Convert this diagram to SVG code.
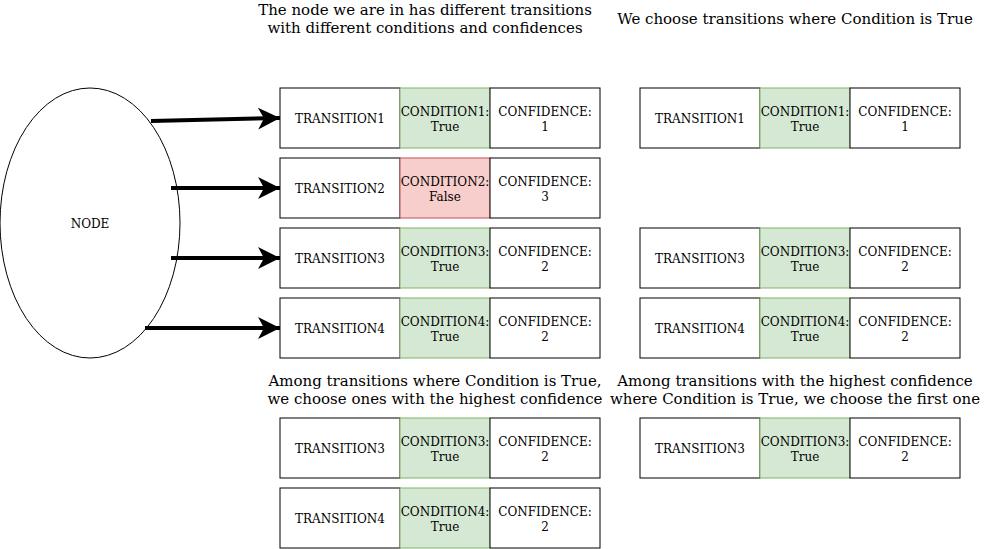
<svg xmlns="http://www.w3.org/2000/svg" width="991" height="549" viewBox="0 0 991 549">
<style>
text{font-family:"DejaVu Serif","Liberation Serif",serif;fill:#000;text-anchor:middle}
.s{font-size:12px}
.t{font-size:15px}
.w{fill:#fff;stroke:#000;stroke-width:1}
.g{fill:#d5e8d4;stroke:#82b366;stroke-width:1}
.r{fill:#f8cecc;stroke:#b85450;stroke-width:1}
.e{stroke:#000;stroke-width:4;fill:none}
</style>
<defs>
<marker id="ah" markerUnits="userSpaceOnUse" markerWidth="24" markerHeight="24" refX="22" refY="11" orient="auto">
<path d="M0,0 L22,11 L0,22 L6,11 Z" fill="#000"/>
</marker>
</defs>
<rect width="991" height="549" fill="#fff"/>
<g id="titles">
<text class="t" x="425" y="15">The node we are in has different transitions</text>
<text class="t" x="425" y="33">with different conditions and confidences</text>
<text class="t" x="795" y="24">We choose transitions where Condition is True</text>
<text class="t" x="435" y="386">Among transitions where Condition is True,</text>
<text class="t" x="435" y="404">we choose ones with the highest confidence</text>
<text class="t" x="795" y="386">Among transitions with the highest confidence</text>
<text class="t" x="795" y="404">where Condition is True, we choose the first one</text>
</g>
<g id="node">
<ellipse cx="90" cy="223" rx="90" ry="135" fill="#fff" stroke="#000"/>
<text class="s" x="90" y="228">NODE</text>
</g>
<g id="connectors">
<path class="e" d="M151,121 L280,118" marker-end="url(#ah)"/>
<path class="e" d="M171,188 L280,188" marker-end="url(#ah)"/>
<path class="e" d="M171,258 L280,258" marker-end="url(#ah)"/>
<path class="e" d="M145,328 L280,328" marker-end="url(#ah)"/>
</g>
<g id="l1">
<rect class="w" x="280" y="88" width="120" height="60"/><text class="s" x="340" y="123">TRANSITION1</text>
<rect class="g" x="400" y="88" width="90" height="60"/><text class="s" x="445" y="116">CONDITION1:</text><text class="s" x="445" y="131">True</text>
<rect class="w" x="490" y="88" width="110" height="60"/><text class="s" x="545" y="116">CONFIDENCE:</text><text class="s" x="545" y="131">1</text>
</g>
<g id="l2">
<rect class="w" x="280" y="158" width="120" height="60"/><text class="s" x="340" y="193">TRANSITION2</text>
<rect class="r" x="400" y="158" width="90" height="60"/><text class="s" x="445" y="186">CONDITION2:</text><text class="s" x="445" y="201">False</text>
<rect class="w" x="490" y="158" width="110" height="60"/><text class="s" x="545" y="186">CONFIDENCE:</text><text class="s" x="545" y="201">3</text>
</g>
<g id="l3">
<rect class="w" x="280" y="228" width="120" height="60"/><text class="s" x="340" y="263">TRANSITION3</text>
<rect class="g" x="400" y="228" width="90" height="60"/><text class="s" x="445" y="256">CONDITION3:</text><text class="s" x="445" y="271">True</text>
<rect class="w" x="490" y="228" width="110" height="60"/><text class="s" x="545" y="256">CONFIDENCE:</text><text class="s" x="545" y="271">2</text>
</g>
<g id="l4">
<rect class="w" x="280" y="298" width="120" height="60"/><text class="s" x="340" y="333">TRANSITION4</text>
<rect class="g" x="400" y="298" width="90" height="60"/><text class="s" x="445" y="326">CONDITION4:</text><text class="s" x="445" y="341">True</text>
<rect class="w" x="490" y="298" width="110" height="60"/><text class="s" x="545" y="326">CONFIDENCE:</text><text class="s" x="545" y="341">2</text>
</g>
<g id="r1">
<rect class="w" x="640" y="88" width="120" height="60"/><text class="s" x="700" y="123">TRANSITION1</text>
<rect class="g" x="760" y="88" width="90" height="60"/><text class="s" x="805" y="116">CONDITION1:</text><text class="s" x="805" y="131">True</text>
<rect class="w" x="850" y="88" width="110" height="60"/><text class="s" x="905" y="116">CONFIDENCE:</text><text class="s" x="905" y="131">1</text>
</g>
<g id="r3">
<rect class="w" x="640" y="228" width="120" height="60"/><text class="s" x="700" y="263">TRANSITION3</text>
<rect class="g" x="760" y="228" width="90" height="60"/><text class="s" x="805" y="256">CONDITION3:</text><text class="s" x="805" y="271">True</text>
<rect class="w" x="850" y="228" width="110" height="60"/><text class="s" x="905" y="256">CONFIDENCE:</text><text class="s" x="905" y="271">2</text>
</g>
<g id="r4">
<rect class="w" x="640" y="298" width="120" height="60"/><text class="s" x="700" y="333">TRANSITION4</text>
<rect class="g" x="760" y="298" width="90" height="60"/><text class="s" x="805" y="326">CONDITION4:</text><text class="s" x="805" y="341">True</text>
<rect class="w" x="850" y="298" width="110" height="60"/><text class="s" x="905" y="326">CONFIDENCE:</text><text class="s" x="905" y="341">2</text>
</g>
<g id="b3">
<rect class="w" x="280" y="418" width="120" height="60"/><text class="s" x="340" y="453">TRANSITION3</text>
<rect class="g" x="400" y="418" width="90" height="60"/><text class="s" x="445" y="446">CONDITION3:</text><text class="s" x="445" y="461">True</text>
<rect class="w" x="490" y="418" width="110" height="60"/><text class="s" x="545" y="446">CONFIDENCE:</text><text class="s" x="545" y="461">2</text>
</g>
<g id="b4">
<rect class="w" x="280" y="488" width="120" height="60"/><text class="s" x="340" y="523">TRANSITION4</text>
<rect class="g" x="400" y="488" width="90" height="60"/><text class="s" x="445" y="516">CONDITION4:</text><text class="s" x="445" y="531">True</text>
<rect class="w" x="490" y="488" width="110" height="60"/><text class="s" x="545" y="516">CONFIDENCE:</text><text class="s" x="545" y="531">2</text>
</g>
<g id="f3">
<rect class="w" x="640" y="418" width="120" height="60"/><text class="s" x="700" y="453">TRANSITION3</text>
<rect class="g" x="760" y="418" width="90" height="60"/><text class="s" x="805" y="446">CONDITION3:</text><text class="s" x="805" y="461">True</text>
<rect class="w" x="850" y="418" width="110" height="60"/><text class="s" x="905" y="446">CONFIDENCE:</text><text class="s" x="905" y="461">2</text>
</g>
</svg>
